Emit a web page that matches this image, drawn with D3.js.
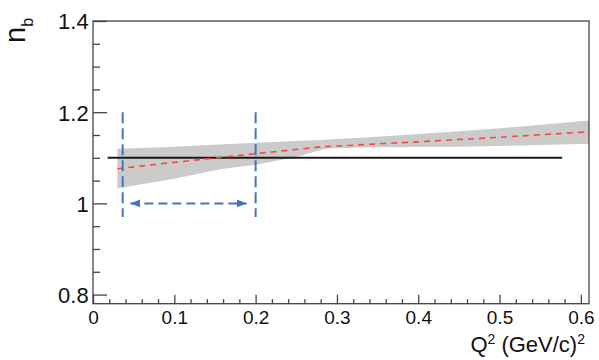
<!DOCTYPE html>
<html>
<head>
<meta charset="utf-8">
<script src="https://cdn.jsdelivr.net/npm/d3@7"></script>
<style>
  html, body { margin: 0; padding: 0; background: #fff; }
  svg { display: block; font-family: "Liberation Sans", Arial, Helvetica, sans-serif; }
</style>
</head>
<body>
<svg id="chart" width="599" height="360"></svg>
<script>
// ---- data ----
const xMajorTicks = [0, 0.1, 0.2, 0.3, 0.4, 0.5, 0.6];
const xTickLabels = ["0", "0.1", "0.2", "0.3", "0.4", "0.5", "0.6"];
const xMinorTicks = [0.02,0.04,0.06,0.08,0.12,0.14,0.16,0.18,0.22,0.24,0.26,0.28,0.32,0.34,0.36,0.38,0.42,0.44,0.46,0.48,0.52,0.54,0.56,0.58];
const yMajorTicks = [0.8, 1.0, 1.2, 1.4];
const yTickLabels = ["0.8", "1", "1.2", "1.4"];
const yMinorTicks = [0.85, 0.9, 0.95, 1.05, 1.1, 1.15, 1.25, 1.3, 1.35];

const bandQ2   = [0.03, 0.10, 0.156, 0.20, 0.25, 0.28, 0.29, 0.35, 0.45, 0.53, 0.61];
const bandHigh = [1.120, 1.124, 1.129, 1.133, 1.137, 1.139, 1.140, 1.146, 1.158, 1.169, 1.182];
const bandLow  = [1.033, 1.054, 1.075, 1.085, 1.102, 1.117, 1.121, 1.123, 1.124, 1.127, 1.131];

const fitQ2 = [0.03, 0.10, 0.20, 0.28, 0.40, 0.50, 0.61];
const fitNb = [1.076, 1.090, 1.109, 1.124, 1.135, 1.145, 1.157];

const refQ2 = [0.018, 0.577];
const refNb = [1.1, 1.1];

const windowQ2 = [0.0365, 0.2];
const windowNb = [0.97, 1.2];
const arrowQ2 = [0.046, 0.189];
const arrowNb = 1.0;

// ---- layout ----
const svg = d3.select("#chart");
const L = 93, R = 589, T = 21, B = 303.7;
const x = d3.scaleLinear().domain([0, 0.61]).range([L, R]);
const y = d3.scaleLinear().domain([0.78, 1.4]).range([B, T]);

const defs = svg.append("defs");
defs.append("clipPath").attr("id", "clip")
  .append("rect").attr("x", L).attr("y", T).attr("width", R - L).attr("height", B - T);
defs.append("marker").attr("id", "arrow")
  .attr("viewBox", "0 0 10 8").attr("refX", 10).attr("refY", 4)
  .attr("markerWidth", 10).attr("markerHeight", 8)
  .attr("markerUnits", "userSpaceOnUse")
  .attr("orient", "auto-start-reverse")
  .append("path").attr("d", "M0,0 L10,4 L0,8 Z").attr("fill", "#4472c4");

const plot = svg.append("g").attr("clip-path", "url(#clip)");

// band
const bandData = bandQ2.map((q, i) => ({q, lo: bandLow[i], hi: bandHigh[i]}));
plot.append("path")
  .datum(bandData)
  .attr("fill", "#cbcbcb")
  .attr("d", d3.area().x(d => x(d.q)).y0(d => y(d.lo)).y1(d => y(d.hi)));

// reference line
plot.append("path")
  .datum(refQ2.map((q, i) => [q, refNb[i]]))
  .attr("fill", "none").attr("stroke", "#1a1a1a").attr("stroke-width", 2)
  .attr("d", d3.line().x(d => x(d[0])).y(d => y(d[1])));

// fit line
plot.append("path")
  .datum(fitQ2.map((q, i) => [q, fitNb[i]]))
  .attr("fill", "none").attr("stroke", "#ff4444").attr("stroke-width", 1.6)
  .attr("stroke-dasharray", "6,5")
  .attr("d", d3.line().x(d => x(d[0])).y(d => y(d[1])));

// window verticals
windowQ2.forEach(q => {
  svg.append("line")
    .attr("x1", x(q)).attr("x2", x(q))
    .attr("y1", y(windowNb[1])).attr("y2", y(windowNb[0]))
    .attr("stroke", "#4472c4").attr("stroke-width", 2)
    .attr("stroke-dasharray", "11,5");
});

// double arrow
svg.append("line")
  .attr("x1", x(arrowQ2[0])).attr("x2", x(arrowQ2[1]))
  .attr("y1", y(arrowNb)).attr("y2", y(arrowNb))
  .attr("stroke", "#4472c4").attr("stroke-width", 2)
  .attr("stroke-dasharray", "9,5")
  .attr("marker-start", "url(#arrow)")
  .attr("marker-end", "url(#arrow)");

// ---- axes ----
const axisColor = "#444";
const xAxisMajor = d3.axisBottom(x).tickValues(xMajorTicks)
  .tickSize(-9).tickPadding(7).tickFormat((d, i) => xTickLabels[i]);
const xAxisMinor = d3.axisBottom(x).tickValues(xMinorTicks).tickSize(-4.5).tickFormat("");
const yAxisMajor = d3.axisLeft(y).tickValues(yMajorTicks)
  .tickSize(-14).tickPadding(4).tickFormat((d, i) => yTickLabels[i]);
const yAxisMinor = d3.axisLeft(y).tickValues(yMinorTicks).tickSize(-7).tickFormat("");

const gx = svg.append("g").attr("transform", `translate(0,${B})`).call(xAxisMajor);
const gxm = svg.append("g").attr("transform", `translate(0,${B})`).call(xAxisMinor);
const gy = svg.append("g").attr("transform", `translate(${L},0)`).call(yAxisMajor);
const gym = svg.append("g").attr("transform", `translate(${L},0)`).call(yAxisMinor);

[gx, gxm, gy, gym].forEach(g => {
  g.select(".domain").remove();
  g.selectAll(".tick line").attr("stroke", axisColor).attr("stroke-width", 1.3);
});
gx.selectAll(".tick text").attr("font-size", 19).attr("fill", "#111")
  .attr("font-family", "Liberation Sans, Arial, sans-serif");
gy.selectAll(".tick text").attr("font-size", 22).attr("fill", "#111")
  .attr("font-family", "Liberation Sans, Arial, sans-serif")
  .attr("x", -4.3).attr("dy", "0.36em");

// frame
svg.append("rect").attr("x", L).attr("y", T).attr("width", R - L).attr("height", B - T)
  .attr("fill", "none").attr("stroke", axisColor).attr("stroke-width", 1.3);

// axis titles
const xt = svg.append("text").attr("x", 585).attr("y", 352)
  .attr("text-anchor", "end").attr("font-size", 22).attr("fill", "#111");
xt.append("tspan").text("Q");
xt.append("tspan").attr("font-size", 14).attr("dy", -8).text("2");
xt.append("tspan").attr("dy", 8).text(" (GeV/c)");
xt.append("tspan").attr("font-size", 14).attr("dy", -8).text("2");

const yt = svg.append("text").attr("transform", "translate(25,43) rotate(-90)")
  .attr("font-size", 29).attr("fill", "#111");
yt.append("tspan").text("n");
yt.append("tspan").attr("font-size", 16).attr("dy", 8).text("b");
</script>
</body>
</html>
